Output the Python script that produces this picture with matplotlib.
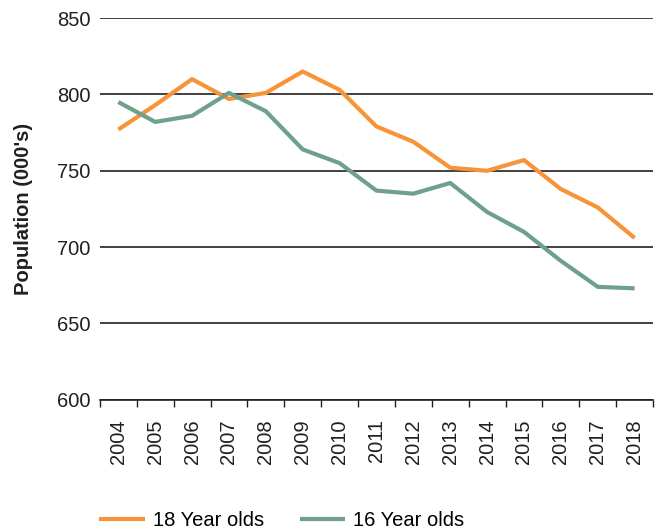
import matplotlib
matplotlib.use("Agg")
import matplotlib.pyplot as plt
import numpy as np

years = ["2004", "2005", "2006", "2007", "2008", "2009", "2010", "2011",
         "2012", "2013", "2014", "2015", "2016", "2017", "2018"]
age18 = [777, 793, 810, 797, 801, 815, 803, 779, 769, 752, 750, 757, 738, 726, 706]
age16 = [795, 782, 786, 801, 789, 764, 755, 737, 735, 742, 723, 710, 691, 674, 673]

plt.rcParams['font.family'] = ['Liberation Sans', 'DejaVu Sans']

fig = plt.figure(figsize=(6.57, 5.31), dpi=100)
ax = fig.add_axes([0.152, 0.247, 0.842, 0.719])

x = np.arange(len(years))
ax.plot(x, age18, color='#F7943A', lw=3.0, label='18 Year olds', solid_capstyle='butt', zorder=3)
ax.plot(x, age16, color='#6FA08C', lw=3.0, label='16 Year olds', solid_capstyle='butt', zorder=3)

ax.set_ylim(600, 850)
ax.set_xlim(-0.5, len(years) - 0.5)
ax.set_yticks([600, 650, 700, 750, 800, 850])
ax.yaxis.grid(True, color='#231F20', lw=1.2)
ax.set_axisbelow(True)
for s in ['top', 'right', 'left']:
    ax.spines[s].set_visible(False)
ax.spines['bottom'].set_color('#231F20')
ax.spines['bottom'].set_linewidth(1.2)
ax.tick_params(axis='y', length=0, labelsize=14.5, pad=7, colors='#231F20')
ax.set_xticks(x)
ax.set_xticklabels(years, rotation=90, fontsize=14.5, color='#231F20')
ax.tick_params(axis='x', which='major', length=0, pad=14)
ax.set_xticks(np.arange(-0.5, len(years)), minor=True)
ax.tick_params(axis='x', which='minor', length=5, width=1.0, color='#231F20', direction='out')
ax.set_ylabel("Population (000's)", fontsize=14.5, fontweight='bold', color='#231F20')
ax.yaxis.set_label_coords(-0.121, 0.5)

fig.legend(loc='center', bbox_to_anchor=(0.429, 0.019), ncol=2, frameon=False,
           fontsize=14.5, handlelength=2.24, handletextpad=0.4, columnspacing=1.8)

fig.savefig('out.png', dpi=100)
